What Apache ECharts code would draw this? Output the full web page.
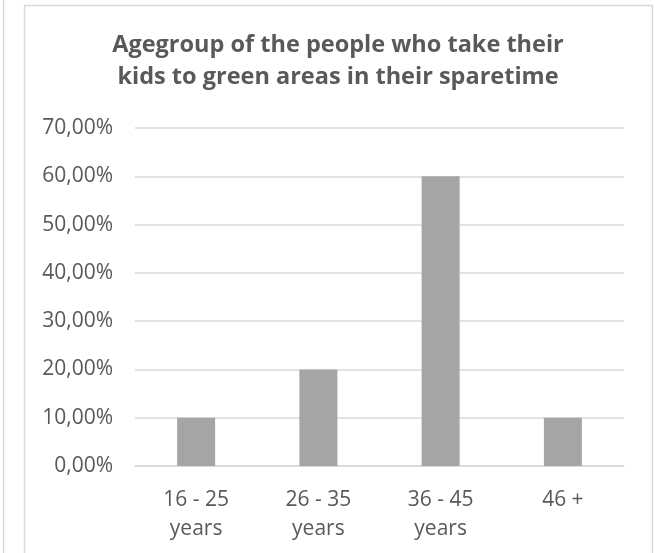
<!DOCTYPE html>
<html>
<head>
<meta charset="utf-8">
<style>
  html, body { margin: 0; padding: 0; background: #ffffff; }
  #chart { width: 655px; height: 553px; }
</style>
<script src="https://cdn.jsdelivr.net/npm/echarts@6/dist/echarts.min.js"></script>
</head>
<body>
<div id="chart"></div>
<script>
// Age groups and share of respondents (percent)
const categories = ['16 - 25\nyears', '26 - 35\nyears', '36 - 45\nyears', '46 +'];
const shares = [10, 20, 60, 10];
const yTicks = { min: 0, max: 70, interval: 10 };

const chartTitle = 'Agegroup of the people who take their\nkids to green areas in their sparetime';

const FONT = '"Open Sans", sans-serif';
const TEXT = '#595959';
const GRID = '#d9d9d9';
const BAR = '#a5a5a5';

const chart = echarts.init(document.getElementById('chart'), null, { renderer: 'canvas' });

chart.setOption({
  backgroundColor: '#ffffff',
  animation: false,
  title: {
    text: chartTitle,
    left: 338,
    top: 29,
    padding: 0,
    textAlign: 'center',
    textStyle: {
      fontFamily: FONT,
      fontSize: 23.5,
      fontWeight: 'bold',
      color: TEXT,
      lineHeight: 32
    }
  },
  grid: { left: 135, right: 31, top: 128, bottom: 87, containLabel: false },
  xAxis: {
    type: 'category',
    data: categories,
    axisLine: { lineStyle: { color: GRID, width: 1.5 } },
    axisTick: { show: false },
    axisLabel: {
      fontFamily: FONT,
      fontSize: 21,
      color: TEXT,
      lineHeight: 29,
      margin: 20
    }
  },
  yAxis: {
    type: 'value',
    min: yTicks.min,
    max: yTicks.max,
    interval: yTicks.interval,
    axisLine: { show: false },
    axisTick: { show: false },
    splitLine: { lineStyle: { color: GRID, width: 1.5 } },
    axisLabel: {
      fontFamily: FONT,
      fontSize: 21,
      color: TEXT,
      margin: 22,
      formatter: v => v.toFixed(2).replace('.', ',') + '%'
    }
  },
  series: [{
    type: 'bar',
    data: shares,
    barWidth: 38,
    itemStyle: { color: BAR }
  }],
  graphic: [
    // outer frame lines
    { type: 'line', silent: true, shape: { x1: 3.5, y1: 0, x2: 3.5, y2: 553 }, style: { stroke: '#d9d9d9', lineWidth: 1.5 } },
    { type: 'polyline', silent: true, shape: { points: [[24.5, 553], [24.5, 5.5], [652.5, 5.5], [652.5, 553]] }, style: { stroke: '#d9d9d9', lineWidth: 1.5, fill: null } }
  ]
});
</script>
</body>
</html>
